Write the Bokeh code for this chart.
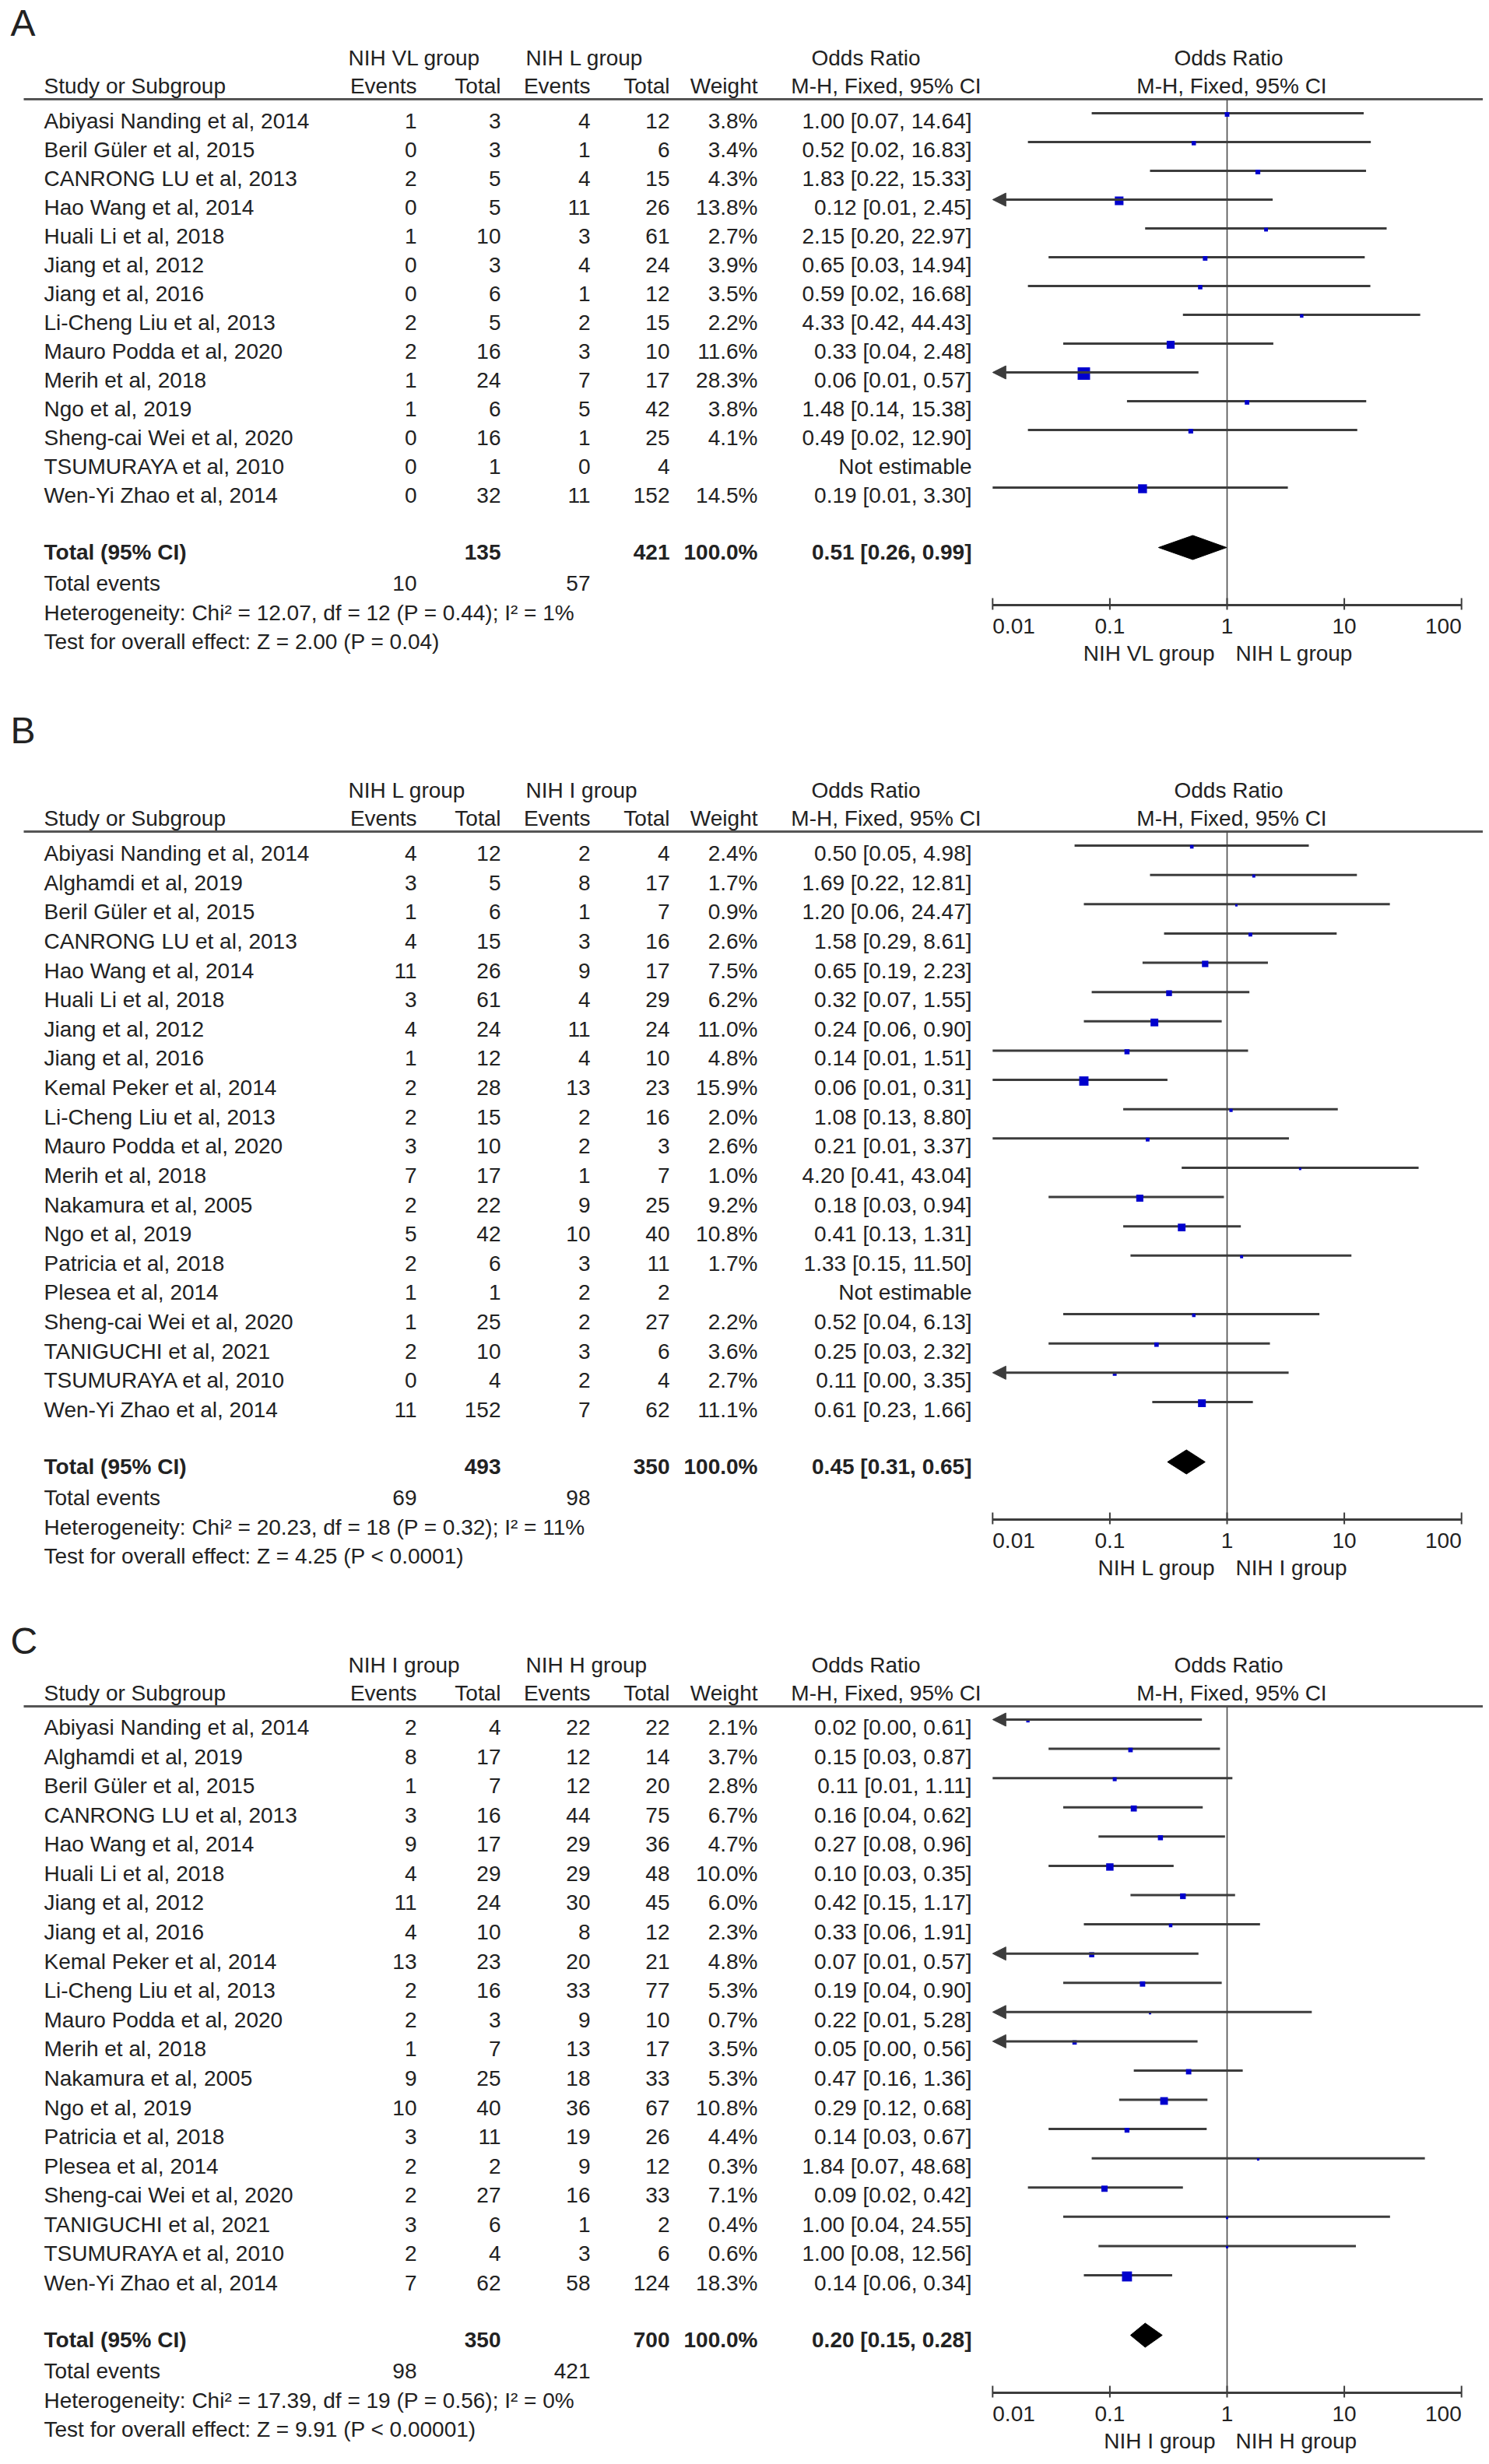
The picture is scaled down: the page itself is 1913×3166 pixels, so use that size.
import math
from bokeh.plotting import figure
from bokeh.models import Range1d, LogScale, ColumnDataSource, Arrow, NormalHead
from bokeh.core.properties import value
from bokeh.embed import file_html
from bokeh.resources import INLINE

# ---------------- DATA ----------------
# Panel A
a_groups = ["NIH VL group", "NIH L group"]
a_studies = ["Abiyasi Nanding et al, 2014", "Beril Güler et al,  2015", "CANRONG LU et al,  2013",
             "Hao Wang et al, 2014", "Huali Li et al, 2018", "Jiang et al, 2012", "Jiang et al, 2016",
             "Li-Cheng Liu et al, 2013", "Mauro Podda et al, 2020", "Merih et al, 2018", "Ngo et al, 2019",
             "Sheng-cai Wei et al, 2020", "TSUMURAYA et al, 2010", "Wen-Yi Zhao et al, 2014"]
a_ev1 = [1, 0, 2, 0, 1, 0, 0, 2, 2, 1, 1, 0, 0, 0]
a_tot1 = [3, 3, 5, 5, 10, 3, 6, 5, 16, 24, 6, 16, 1, 32]
a_ev2 = [4, 1, 4, 11, 3, 4, 1, 2, 3, 7, 5, 1, 0, 11]
a_tot2 = [12, 6, 15, 26, 61, 24, 12, 15, 10, 17, 42, 25, 4, 152]
a_weight = [3.8, 3.4, 4.3, 13.8, 2.7, 3.9, 3.5, 2.2, 11.6, 28.3, 3.8, 4.1, None, 14.5]
a_or = [1.00, 0.52, 1.83, 0.12, 2.15, 0.65, 0.59, 4.33, 0.33, 0.06, 1.48, 0.49, None, 0.19]
a_lo = [0.07, 0.02, 0.22, 0.01, 0.20, 0.03, 0.02, 0.42, 0.04, 0.01, 0.14, 0.02, None, 0.01]
a_hi = [14.64, 16.83, 15.33, 2.45, 22.97, 14.94, 16.68, 44.43, 2.48, 0.57, 15.38, 12.90, None, 3.30]
a_arrow = ["Hao Wang et al, 2014", "Merih et al, 2018"]
a_total = {"n1": 135, "n2": 421, "ev1": 10, "ev2": 57, "or": 0.51, "lo": 0.26, "hi": 0.99}
a_het = "Heterogeneity: Chi² = 12.07, df = 12 (P = 0.44); I² = 1%"
a_test = "Test for overall effect: Z = 2.00 (P = 0.04)"

# Panel B
b_groups = ["NIH L group", "NIH I group"]
b_studies = ["Abiyasi Nanding et al, 2014", "Alghamdi et al, 2019", "Beril Güler et al,  2015",
             "CANRONG LU et al,  2013", "Hao Wang et al, 2014", "Huali Li et al, 2018", "Jiang et al, 2012",
             "Jiang et al, 2016", "Kemal Peker et al, 2014", "Li-Cheng Liu et al, 2013", "Mauro Podda et al, 2020",
             "Merih et al, 2018", "Nakamura et al, 2005", "Ngo et al, 2019", "Patricia et al, 2018",
             "Plesea et al, 2014", "Sheng-cai Wei et al, 2020", "TANIGUCHI et al, 2021", "TSUMURAYA et al, 2010",
             "Wen-Yi Zhao et al, 2014"]
b_ev1 = [4, 3, 1, 4, 11, 3, 4, 1, 2, 2, 3, 7, 2, 5, 2, 1, 1, 2, 0, 11]
b_tot1 = [12, 5, 6, 15, 26, 61, 24, 12, 28, 15, 10, 17, 22, 42, 6, 1, 25, 10, 4, 152]
b_ev2 = [2, 8, 1, 3, 9, 4, 11, 4, 13, 2, 2, 1, 9, 10, 3, 2, 2, 3, 2, 7]
b_tot2 = [4, 17, 7, 16, 17, 29, 24, 10, 23, 16, 3, 7, 25, 40, 11, 2, 27, 6, 4, 62]
b_weight = [2.4, 1.7, 0.9, 2.6, 7.5, 6.2, 11.0, 4.8, 15.9, 2.0, 2.6, 1.0, 9.2, 10.8, 1.7, None, 2.2, 3.6, 2.7, 11.1]
b_or = [0.50, 1.69, 1.20, 1.58, 0.65, 0.32, 0.24, 0.14, 0.06, 1.08, 0.21, 4.20, 0.18, 0.41, 1.33, None, 0.52, 0.25, 0.11, 0.61]
b_lo = [0.05, 0.22, 0.06, 0.29, 0.19, 0.07, 0.06, 0.01, 0.01, 0.13, 0.01, 0.41, 0.03, 0.13, 0.15, None, 0.04, 0.03, 0.00, 0.23]
b_hi = [4.98, 12.81, 24.47, 8.61, 2.23, 1.55, 0.90, 1.51, 0.31, 8.80, 3.37, 43.04, 0.94, 1.31, 11.50, None, 6.13, 2.32, 3.35, 1.66]
b_arrow = ["TSUMURAYA et al, 2010"]
b_total = {"n1": 493, "n2": 350, "ev1": 69, "ev2": 98, "or": 0.45, "lo": 0.31, "hi": 0.65}
b_het = "Heterogeneity: Chi² = 20.23, df = 18 (P = 0.32); I² = 11%"
b_test = "Test for overall effect: Z = 4.25 (P < 0.0001)"

# Panel C
c_groups = ["NIH I group", "NIH H group"]
c_studies = ["Abiyasi Nanding et al, 2014", "Alghamdi et al, 2019", "Beril Güler et al,  2015",
             "CANRONG LU et al,  2013", "Hao Wang et al, 2014", "Huali Li et al, 2018", "Jiang et al, 2012",
             "Jiang et al, 2016", "Kemal Peker et al, 2014", "Li-Cheng Liu et al, 2013", "Mauro Podda et al, 2020",
             "Merih et al, 2018", "Nakamura et al, 2005", "Ngo et al, 2019", "Patricia et al, 2018",
             "Plesea et al, 2014", "Sheng-cai Wei et al, 2020", "TANIGUCHI et al, 2021", "TSUMURAYA et al, 2010",
             "Wen-Yi Zhao et al, 2014"]
c_ev1 = [2, 8, 1, 3, 9, 4, 11, 4, 13, 2, 2, 1, 9, 10, 3, 2, 2, 3, 2, 7]
c_tot1 = [4, 17, 7, 16, 17, 29, 24, 10, 23, 16, 3, 7, 25, 40, 11, 2, 27, 6, 4, 62]
c_ev2 = [22, 12, 12, 44, 29, 29, 30, 8, 20, 33, 9, 13, 18, 36, 19, 9, 16, 1, 3, 58]
c_tot2 = [22, 14, 20, 75, 36, 48, 45, 12, 21, 77, 10, 17, 33, 67, 26, 12, 33, 2, 6, 124]
c_weight = [2.1, 3.7, 2.8, 6.7, 4.7, 10.0, 6.0, 2.3, 4.8, 5.3, 0.7, 3.5, 5.3, 10.8, 4.4, 0.3, 7.1, 0.4, 0.6, 18.3]
c_or = [0.02, 0.15, 0.11, 0.16, 0.27, 0.10, 0.42, 0.33, 0.07, 0.19, 0.22, 0.05, 0.47, 0.29, 0.14, 1.84, 0.09, 1.00, 1.00, 0.14]
c_lo = [0.00, 0.03, 0.01, 0.04, 0.08, 0.03, 0.15, 0.06, 0.01, 0.04, 0.01, 0.00, 0.16, 0.12, 0.03, 0.07, 0.02, 0.04, 0.08, 0.06]
c_hi = [0.61, 0.87, 1.11, 0.62, 0.96, 0.35, 1.17, 1.91, 0.57, 0.90, 5.28, 0.56, 1.36, 0.68, 0.67, 48.68, 0.42, 24.55, 12.56, 0.34]
c_arrow = ["Abiyasi Nanding et al, 2014", "Kemal Peker et al, 2014", "Mauro Podda et al, 2020", "Merih et al, 2018"]
c_total = {"n1": 350, "n2": 700, "ev1": 98, "ev2": 421, "or": 0.20, "lo": 0.15, "hi": 0.28}
c_het = "Heterogeneity: Chi² = 17.39, df = 19 (P = 0.56); I² = 0%"
c_test = "Test for overall effect: Z = 9.91 (P < 0.00001)"

axis_ticks = [0.01, 0.1, 1, 10, 100]
axis_labels = ["0.01", "0.1", "1", "10", "100"]

# ---------------- LAYOUT / STYLE ----------------
W, H = 1905, 3160
FONT = value("Liberation Sans")
FS = "28px"
BASE = -2
TXT = "#222222"
LINE = "#3c3c3c"
BLUE = "#0000CD"

X_ONE = 1576.0   # page x of OR = 1
DEC = 150.6      # pixels per decade

p = figure(width=W, height=H, x_range=Range1d(0, W), y_range=Range1d(H, 0),
           output_backend="svg", toolbar_location=None, min_border=0,
           x_axis_location=None, y_axis_location=None, outline_line_color=None,
           background_fill_color="white", border_fill_color="white")
p.grid.visible = False
lo_log = (0 - X_ONE) / DEC
hi_log = (W - X_ONE) / DEC
p.extra_x_ranges = {"or": Range1d(10 ** lo_log, 10 ** hi_log)}
p.extra_x_scales = {"or": LogScale()}

COL_NAME = 56
COL_E1, COL_T1, COL_E2, COL_T2 = 535, 643, 758, 860
COL_W = 973
COL_CI = 1248
GRP1_X, GRP2_X = 447, 675
OR_HEAD_X = 1112
MH_HEAD_X = 1138


def txt(xs, ys, texts, align="left", size=FS, style="normal", rng=None, x_offset=0, color=TXT, base=BASE):
    kw = dict(x=xs, y=[y + base for y in ys], text=texts, text_font=FONT, text_font_size=size,
              text_align=align, text_baseline="middle", text_color=color,
              text_font_style=style, x_offset=x_offset)
    if rng:
        kw["x_range_name"] = rng
    p.text(**kw)


def fmt_ci(o, l, h):
    return f"{o:.2f} [{l:.2f}, {h:.2f}]"


def panel(letter, letter_y, rule_y, row_off, sp, groups, studies, ev1, tot1, ev2, tot2, weight, ors, los,
          his, arrows, total, het, test):
    n = len(studies)
    txt([13], [letter_y], [letter], size="48px")
    h1 = rule_y - 51
    h2 = rule_y - 15
    txt([GRP1_X, GRP2_X], [h1, h1], groups)
    txt([OR_HEAD_X], [h1], ["Odds Ratio"], align="center")
    txt([1], [h1], ["Odds Ratio"], align="center", rng="or", x_offset=2)
    txt([COL_NAME], [h2], ["Study or Subgroup"])
    txt([COL_E1, COL_T1, COL_E2, COL_T2, COL_W], [h2] * 5,
        ["Events", "Total", "Events", "Total", "Weight"], align="right")
    txt([MH_HEAD_X], [h2], ["M-H, Fixed, 95% CI"], align="center")
    txt([1], [h2], ["M-H, Fixed, 95% CI"], align="center", rng="or", x_offset=6)
    p.segment(x0=[30], x1=[1905], y0=[rule_y], y1=[rule_y], line_color="#555555", line_width=3)

    ys = [rule_y + row_off + i * sp for i in range(n)]
    txt([COL_NAME] * n, ys, studies)
    txt([COL_E1] * n, ys, [str(v) for v in ev1], align="right")
    txt([COL_T1] * n, ys, [str(v) for v in tot1], align="right")
    txt([COL_E2] * n, ys, [str(v) for v in ev2], align="right")
    txt([COL_T2] * n, ys, [str(v) for v in tot2], align="right")
    txt([COL_W] * n, ys, ["" if w is None else f"{w:.1f}%" for w in weight], align="right")
    txt([COL_CI] * n, ys,
        ["Not estimable" if o is None else fmt_ci(o, l, h) for o, l, h in zip(ors, los, his)],
        align="right")

    total_y = ys[-1] + 73
    ev_y = total_y + 40
    het_y = total_y + 78
    test_y = total_y + 115
    axis_y = total_y + 66

    # vertical line at OR = 1
    p.segment(x0=[1], x1=[1], y0=[rule_y], y1=[axis_y], x_range_name="or", line_color="#4a4a4a", line_width=1.6)

    # CI lines, arrows and squares
    seg = dict(x0=[], x1=[], y=[])
    arr = dict(xs=[], xe=[], y=[])
    sq = dict(x=[], y=[], s=[])
    for name, o, l, h, w, y in zip(studies, ors, los, his, weight, ys):
        if o is None:
            continue
        yf = y - 12
        if name in arrows:
            arr["xs"].append(h)
            arr["xe"].append(0.01)
            arr["y"].append(yf)
        else:
            seg["x0"].append(max(l, 0.01))
            seg["x1"].append(h)
            seg["y"].append(yf)
        sq["x"].append(o)
        sq["y"].append(yf + 1.5)
        sq["s"].append(max(3.0, 3.0 * math.sqrt(w)))
    p.segment(x0=seg["x0"], x1=seg["x1"], y0=seg["y"], y1=seg["y"], x_range_name="or",
              line_color=LINE, line_width=3)
    if arr["xs"]:
        src = ColumnDataSource(arr)
        p.add_layout(Arrow(source=src, x_start="xs", x_end="xe", y_start="y", y_end="y",
                           x_range_name="or", line_color=LINE, line_width=3,
                           end=NormalHead(size=17, fill_color=LINE, line_color=LINE, line_width=1)))
    p.scatter(x=sq["x"], y=sq["y"], size=sq["s"], marker="square", fill_color=BLUE,
              line_color=None, x_range_name="or")

    # totals
    txt([COL_NAME], [total_y], ["Total (95% CI)"], style="bold")
    txt([COL_T1, COL_T2, COL_W, COL_CI], [total_y] * 4,
        [str(total["n1"]), str(total["n2"]), "100.0%", fmt_ci(total["or"], total["lo"], total["hi"])],
        align="right", style="bold")
    dy = total_y - 8
    p.patch(x=[total["lo"], total["or"], total["hi"], total["or"]], y=[dy, dy - 15.5, dy, dy + 15.5],
            x_range_name="or", fill_color="black", line_color="black", line_width=1)
    txt([COL_NAME], [ev_y], ["Total events"])
    txt([COL_E1, COL_E2], [ev_y, ev_y], [str(total["ev1"]), str(total["ev2"])], align="right")
    txt([COL_NAME], [het_y], [het])
    txt([COL_NAME], [test_y], [test])

    # forest axis
    p.segment(x0=[axis_ticks[0]], x1=[axis_ticks[-1]], y0=[axis_y], y1=[axis_y], x_range_name="or",
              line_color=LINE, line_width=3)
    p.segment(x0=axis_ticks, x1=axis_ticks, y0=[axis_y - 9] * len(axis_ticks),
              y1=[axis_y + 6] * len(axis_ticks), x_range_name="or", line_color=LINE, line_width=2)
    tl_y = axis_y + 29
    txt([axis_ticks[0]], [tl_y], [axis_labels[0]], align="left", rng="or")
    txt(axis_ticks[1:-1], [tl_y] * (len(axis_ticks) - 2), axis_labels[1:-1], align="center", rng="or")
    txt([axis_ticks[-1]], [tl_y], [axis_labels[-1]], align="right", rng="or")
    g_y = axis_y + 64
    txt([1], [g_y], [groups[0]], align="right", rng="or", x_offset=-15)
    txt([1], [g_y], [groups[1]], align="left", rng="or", x_offset=11)


panel("A", 31, 127, 30, 37.0, a_groups, a_studies, a_ev1, a_tot1, a_ev2, a_tot2, a_weight, a_or, a_lo, a_hi,
      a_arrow, a_total, a_het, a_test)
panel("B", 940, 1068, 30, 37.63, b_groups, b_studies, b_ev1, b_tot1, b_ev2, b_tot2, b_weight, b_or, b_lo, b_hi,
      b_arrow, b_total, b_het, b_test)
panel("C", 2110, 2192, 29, 37.58, c_groups, c_studies, c_ev1, c_tot1, c_ev2, c_tot2, c_weight, c_or, c_lo, c_hi,
      c_arrow, c_total, c_het, c_test)

open("out.html", "w").write(file_html(p, INLINE))
